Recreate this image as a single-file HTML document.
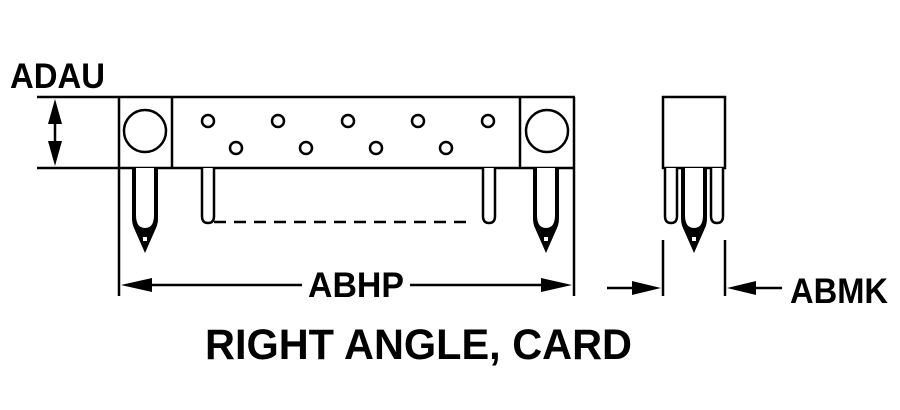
<!DOCTYPE html>
<html><head><style>
html,body{margin:0;padding:0;background:#fff;}
svg{display:block;}
text{font-family:"Liberation Sans",Arial,sans-serif;font-weight:bold;fill:#000;}
</style></head><body>
<svg width="900" height="410" viewBox="0 0 900 410" xmlns="http://www.w3.org/2000/svg">
<defs>
<g id="bigpin">
  <path d="M-13,0 V50 Q-13,56 -11,60 L0,85 L11,60 Q13,56 13,50 V0 Z" fill="#000"/>
  <path d="M-9,0 V47 Q-9,60 0,60 Q9,60 9,47 V0 Z" fill="#fff"/>
  <rect x="-2" y="69" width="4" height="4" fill="#fff"/>
</g>
<g id="smallpin">
  <path d="M-6,0 V48 Q-6,55 0,55 Q6,55 6,48 V0" fill="#fff" stroke="#000" stroke-width="2.5"/>
</g>
</defs>
<g stroke="#000" stroke-width="2.5" fill="none">
  <line x1="37" y1="97" x2="575" y2="97"/>
  <line x1="37" y1="168" x2="575" y2="168"/>
  <line x1="119" y1="97" x2="119" y2="296"/>
  <line x1="574" y1="97" x2="574" y2="296"/>
  <line x1="172" y1="97" x2="172" y2="168"/>
  <line x1="520" y1="97" x2="520" y2="168"/>
  <circle cx="145" cy="131" r="21"/>
  <circle cx="547" cy="131" r="21"/>
  <circle cx="208" cy="121" r="6"/><circle cx="278" cy="121" r="6"/><circle cx="348" cy="121" r="6"/><circle cx="418" cy="121" r="6"/><circle cx="488" cy="121" r="6"/>
  <circle cx="236" cy="148" r="6"/><circle cx="306" cy="148" r="6"/><circle cx="376" cy="148" r="6"/><circle cx="446" cy="148" r="6"/>
  <line x1="214" y1="222" x2="472" y2="222" stroke-dasharray="12,8"/>
  <line x1="55" y1="112" x2="55" y2="152"/>
  <line x1="135" y1="285" x2="302" y2="285"/>
  <line x1="410" y1="285" x2="558" y2="285"/>
  <rect x="663" y="97" width="62" height="71"/>
  <line x1="663" y1="240" x2="663" y2="296"/>
  <line x1="725" y1="240" x2="725" y2="296"/>
  <line x1="607" y1="288" x2="650" y2="288"/>
  <line x1="740" y1="288" x2="782" y2="288"/>
</g>
<use href="#bigpin" x="145" y="168"/>
<use href="#bigpin" x="546" y="168"/>
<use href="#smallpin" x="208" y="168"/>
<use href="#smallpin" x="489" y="168"/>
<use href="#smallpin" x="671" y="168"/>
<use href="#smallpin" x="717" y="168"/>
<use href="#bigpin" x="694" y="168"/>
<g fill="#000">
  <polygon points="55,99 48,124 62,124"/>
  <polygon points="55,166 48,141 62,141"/>
  <polygon points="121,285 152,278 152,292"/>
  <polygon points="572,285 541,278 541,292"/>
  <polygon points="661,288 632,281 632,295"/>
  <polygon points="727,288 756,281 756,295"/>
</g>
<text x="10" y="88" font-size="35" textLength="95" lengthAdjust="spacingAndGlyphs">ADAU</text>
<text x="308" y="297" font-size="35" textLength="96" lengthAdjust="spacingAndGlyphs">ABHP</text>
<text x="790" y="303" font-size="35" textLength="98" lengthAdjust="spacingAndGlyphs">ABMK</text>
<text x="205" y="359" font-size="43" textLength="427" lengthAdjust="spacingAndGlyphs">RIGHT ANGLE, CARD</text>
</svg>
</body></html>
